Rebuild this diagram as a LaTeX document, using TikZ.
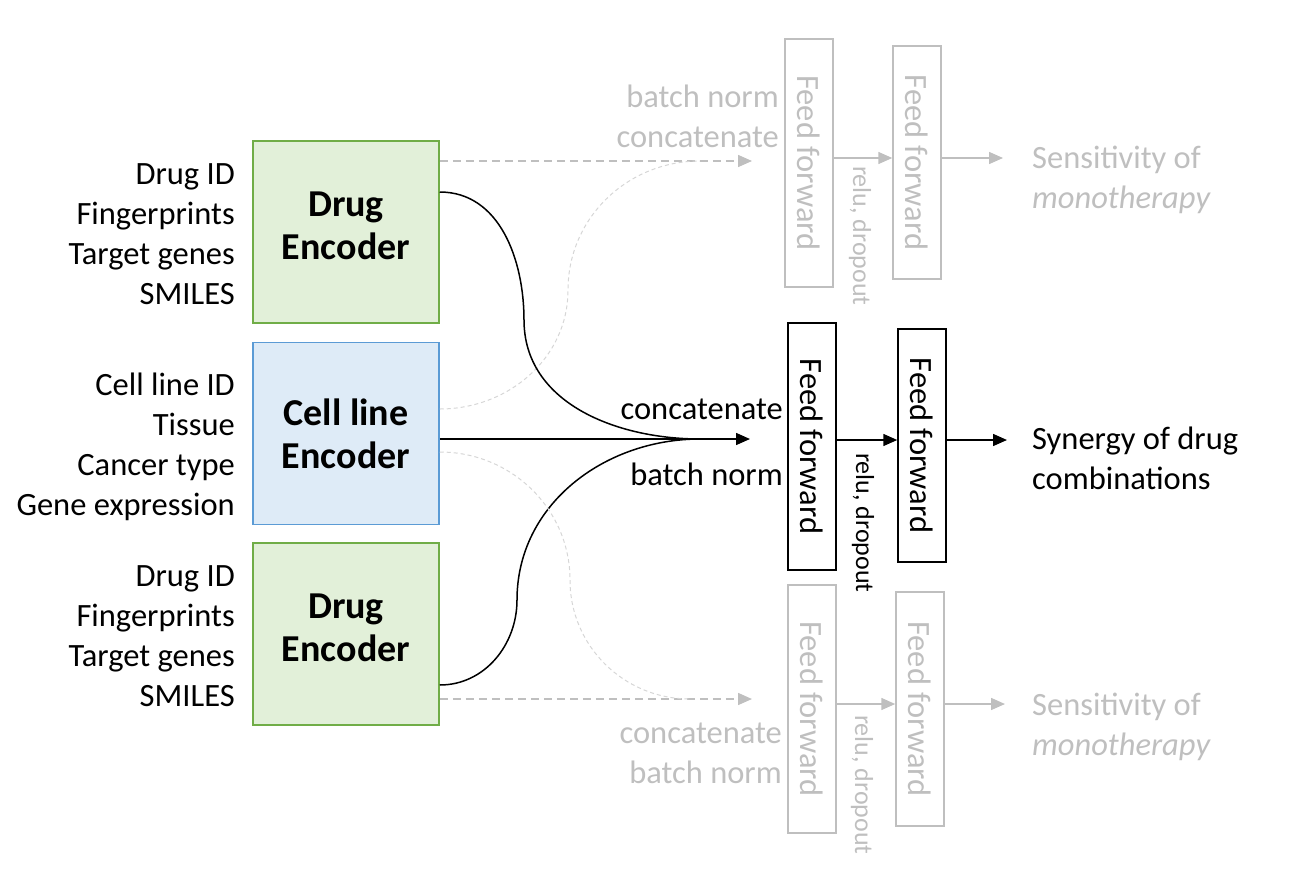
\documentclass[tikz,border=0pt]{standalone}
\usepackage{fontspec}
\setmainfont{Carlito}
\usetikzlibrary{arrows.meta}
\definecolor{encgreen}{HTML}{E2F0D9}
\definecolor{encgreenline}{HTML}{70AD47}
\definecolor{encblue}{HTML}{DEEBF7}
\definecolor{encblueline}{HTML}{5B9BD5}
\definecolor{ghostgray}{HTML}{BFBFBF}
\definecolor{ghostline}{HTML}{D6D6D6}
\begin{document}
\begin{tikzpicture}[x=1pt,y=-1pt,
  txt/.style={inner sep=0pt, font=\fontsize{32.5}{40}\selectfont},
  enc/.style={draw, line width=1.5pt, minimum width=186pt, minimum height=182pt, inner sep=0pt, align=center, font=\fontsize{38}{43}\selectfont\bfseries},
  ff/.style={draw, line width=1.5pt, rotate=-90, minimum height=48pt, inner sep=0pt, font=\fontsize{32.5}{40}\selectfont},
  act/.style={rotate=-90, anchor=west, inner sep=0pt, font=\fontsize{26}{30}\selectfont},
  ghost/.style={draw=ghostgray, text=ghostgray},
  arr/.style={-{Triangle[length=14pt,width=12pt]}, line width=1.5pt},
  ghostarr/.style={arr, ghostgray},
  ghostcurve/.style={ghostline, line width=1pt, dash pattern=on 4pt off 3pt}]
\useasboundingbox (0,0) rectangle (1315,892);

\node[txt, align=right, anchor=east] (inA) at (235,234) {Drug ID\\Fingerprints\\Target genes\\SMILES};
\node[txt, align=right, anchor=east] (inB) at (235,447) {Cell line ID\\Tissue\\Cancer type\\Gene expression};
\node[txt, align=right, anchor=east] (inC) at (235,636) {Drug ID\\Fingerprints\\Target genes\\SMILES};

\node[enc, fill=encgreen, draw=encgreenline] (drugA) at (346,232) {Drug\\Encoder\rule[-12pt]{0pt}{12pt}};
\node[enc, fill=encblue, draw=encblueline] (cell) at (346,433.5) {Cell line\\Encoder};
\node[enc, fill=encgreen, draw=encgreenline] (drugC) at (346,634) {Drug\\Encoder\rule[-12pt]{0pt}{12pt}};

\coordinate (tipA) at (752,161);
\coordinate (tipB) at (750,439);
\coordinate (tipC) at (752,699);
\coordinate (mergeA) at (700,161);
\coordinate (mergeB) at (700,439);
\coordinate (mergeC) at (690,699);
\coordinate (rowA) at (0,158);
\coordinate (rowB) at (0,440);
\coordinate (rowC) at (0,704);

\node[txt, align=right, anchor=east, ghost, draw=none] (lblA) at (779,116) {batch norm\\concatenate};
\node[txt, anchor=east] (catB) at (783,409) {concatenate};
\node[txt, anchor=east] (bnB) at (783,474) {batch norm};
\node[txt, align=right, anchor=east, ghost, draw=none] (lblC) at (782,753) {concatenate\\batch norm};

\node[ff, ghost, minimum width=248pt] (ffA1) at (809,163) {Feed forward};
\node[ff, ghost, minimum width=233pt] (ffA2) at (917,162.5) {Feed forward};
\node[ff, minimum width=247pt] (ffB1) at (812,446.5) {Feed forward};
\node[ff, minimum width=233pt] (ffB2) at (922,445.5) {Feed forward};
\node[ff, ghost, minimum width=248pt] (ffC1) at (812,709) {Feed forward};
\node[ff, ghost, minimum width=234pt] (ffC2) at (920,709) {Feed forward};

\node[act, ghost, draw=none] (actA) at (860,166) {relu, dropout};
\node[act] (actB) at (863,453) {relu, dropout};
\node[act, ghost, draw=none] (actC) at (862,715) {relu, dropout};

\node[txt, align=left, anchor=west, ghost, draw=none] (outA) at (1032,180) {Sensitivity of\\\textit{monotherapy}};
\node[txt, align=left, anchor=west] (outB) at (1032,458) {Synergy of drug\\combinations};
\node[txt, align=left, anchor=west, ghost, draw=none] (outC) at (1032,727) {Sensitivity of\\\textit{monotherapy}};

\draw[ghostarr, dash pattern=on 8pt off 5pt] (drugA.east |- tipA) -- (tipA);
\draw[ghostcurve] ([yshift=24.5pt]cell.east) to[out=0,in=-90] (568,290) to[out=90,in=180] (mergeA);
\draw[ghostarr] (ffA1.north |- rowA) -- (ffA2.south |- rowA);
\draw[ghostarr] (ffA2.north |- rowA) -- ([xshift=-29pt]outA.west |- rowA);

\draw[arr] (cell.east |- tipB) -- (tipB);
\draw[line width=1.5pt] ([yshift=40pt]drugA.east) to[out=0,in=90] (524,320) to[out=-90,in=180] (mergeB);
\draw[line width=1.5pt] ([yshift=-51pt]drugC.east) to[out=0,in=-90] (517,600) to[out=90,in=180] (mergeB);
\draw[arr] (ffB1.north |- rowB) -- (ffB2.south |- rowB);
\draw[arr] (ffB2.north |- rowB) -- ([xshift=-25pt]outB.west |- rowB);

\draw[ghostarr, dash pattern=on 8pt off 5pt] (drugC.east |- tipC) -- (tipC);
\draw[ghostcurve] ([yshift=-18.5pt]cell.east) to[out=0,in=90] (570,580) to[out=-90,in=180] (mergeC);
\draw[ghostarr] (ffC1.north |- rowC) -- (ffC2.south |- rowC);
\draw[ghostarr] (ffC2.north |- rowC) -- ([xshift=-27pt]outC.west |- rowC);
\end{tikzpicture}
\end{document}
